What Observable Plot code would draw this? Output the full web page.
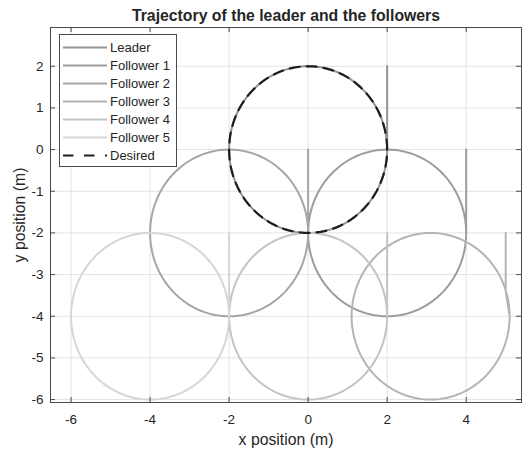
<!DOCTYPE html>
<html>
<head>
<meta charset="utf-8">
<script src="https://cdn.jsdelivr.net/npm/d3@7"></script>
<script src="https://cdn.jsdelivr.net/npm/@observablehq/plot@0.6"></script>
<style>
  body { margin: 0; background: #fff; }
  #wrap { position: relative; width: 522px; height: 450px; font-family: "Liberation Sans", Arial, sans-serif; }
  #legend { position: absolute; }
</style>
</head>
<body>
<div id="wrap"></div>
<script>
// ---- data ----
const agentNames = ["Leader", "Follower 1", "Follower 2", "Follower 3", "Follower 4", "Follower 5"];
const centerX = [0, 2, -2, 3.1, 0, -4];
const centerY = [0, -2, -2, -4, -4, -4];
const radius  = [2, 2, 2, 2, 2, 2];
const startX  = [2, 4, 0, 5, 2, -2];
const startY  = [2, 0, 0, -2, -2, -2];
const bendY   = [0, -2, -2, -3.4, -4, -4];
const agentColors = ["#939393", "#9c9c9c", "#a6a6a6", "#b4b4b4", "#c4c4c4", "#d6d6d6"];
const desiredName = "Desired";
const desiredCenter = [0, 0];
const desiredRadius = 2;
const xTicks = [-6, -4, -2, 0, 2, 4];
const yTicks = [-6, -5, -4, -3, -2, -1, 0, 1, 2];
const xDomain = [-6.52, 5.40];
const yDomain = [-6.07, 2.93];

// ---- trajectories: straight start segment, then the circle ----
const angles = d3.range(0, 361, 3).map(a => a * Math.PI / 180);
const trajRows = [];
agentNames.forEach((name, i) => {
  trajRows.push({name, x: startX[i], y: startY[i]});
  trajRows.push({name, x: startX[i], y: bendY[i]});
  angles.forEach(t => trajRows.push({name, x: centerX[i] + radius[i] * Math.cos(t), y: centerY[i] + radius[i] * Math.sin(t)}));
});
const desiredRows = angles.map(t => ({name: desiredName, x: desiredCenter[0] + desiredRadius * Math.cos(t), y: desiredCenter[1] + desiredRadius * Math.sin(t)}));

const W = 522, H = 450, mL = 50, mR = 1, mT = 27, mB = 48;
const iW = W - mL - mR, iH = H - mT - mB;
const axisColor = "#4a4a4a", textColor = "#262626", gridColor = "#e3e3e3";

const chart = Plot.plot({
  width: W, height: H,
  marginLeft: mL, marginRight: mR, marginTop: mT, marginBottom: mB,
  style: {fontFamily: "'Liberation Sans', Arial, sans-serif", color: textColor, background: "#fff"},
  x: {domain: xDomain},
  y: {domain: yDomain},
  marks: [
    Plot.gridX(xTicks, {stroke: gridColor, strokeOpacity: 1}),
    Plot.gridY(yTicks, {stroke: gridColor, strokeOpacity: 1}),
    Plot.line(trajRows, {x: "x", y: "y", z: "name", stroke: d => agentColors[agentNames.indexOf(d.name)], strokeWidth: 2, curve: "linear"}),
    Plot.line(desiredRows, {x: "x", y: "y", stroke: "#1e1e1e", strokeWidth: 2.2, strokeDasharray: "10,7"}),
    Plot.frame({stroke: axisColor}),
    Plot.tickX(xTicks, {x: d => d, insetTop: iH - 5, stroke: axisColor}),
    Plot.tickX(xTicks, {x: d => d, insetBottom: iH - 5, stroke: axisColor}),
    Plot.tickY(yTicks, {y: d => d, insetRight: iW - 5, stroke: axisColor}),
    Plot.tickY(yTicks, {y: d => d, insetLeft: iW - 5, stroke: axisColor}),
    Plot.axisX(xTicks, {tickSize: 0, tickPadding: 11.5, tickFormat: d => String(d), fontSize: 13.5, label: null, fill: textColor}),
    Plot.axisY(yTicks, {tickSize: 0, tickPadding: 7, tickFormat: d => String(d), fontSize: 13.5, label: null, fill: textColor}),
    Plot.text(["Trajectory of the leader and the followers"], {frameAnchor: "top", lineAnchor: "middle", dy: -12, fontWeight: "bold", fontSize: 15.8, fill: textColor}),
    Plot.text(["x position (m)"], {frameAnchor: "bottom", lineAnchor: "middle", dy: 37, fontSize: 15.8, fill: textColor}),
    Plot.text(["y position (m)"], {frameAnchor: "left", textAnchor: "middle", lineAnchor: "middle", dx: -31, rotate: -90, fontSize: 15.8, fill: textColor})
  ]
});
const wrap = document.getElementById("wrap");
wrap.appendChild(chart);

// ---- legend (inside the axes, upper left) ----
const legendItems = agentNames.map((n, i) => ({label: n, color: agentColors[i], dash: null}))
  .concat([{label: desiredName, color: "#1e1e1e", dash: "10.5,10.5"}]);
const lgW = 118, lgH = 133, rowH = 18, row0 = 13.5;
const lg = d3.create("svg").attr("id", "legend").attr("width", lgW).attr("height", lgH)
  .style("left", "59px").style("top", "34px");
lg.append("rect").attr("x", 0.5).attr("y", 0.5).attr("width", lgW - 1).attr("height", lgH - 1)
  .attr("fill", "#fff").attr("stroke", axisColor);
legendItems.forEach((it, i) => {
  const y = row0 + i * rowH;
  lg.append("line").attr("x1", 4).attr("x2", 48).attr("y1", y).attr("y2", y)
    .attr("stroke", it.color).attr("stroke-width", 2.2)
    .attr("stroke-dasharray", it.dash);
  lg.append("text").attr("x", 51).attr("y", y).attr("dy", "0.35em")
    .attr("font-size", 13).attr("fill", textColor)
    .attr("font-family", "'Liberation Sans', Arial, sans-serif").text(it.label);
});
wrap.appendChild(lg.node());
</script>
</body>
</html>
